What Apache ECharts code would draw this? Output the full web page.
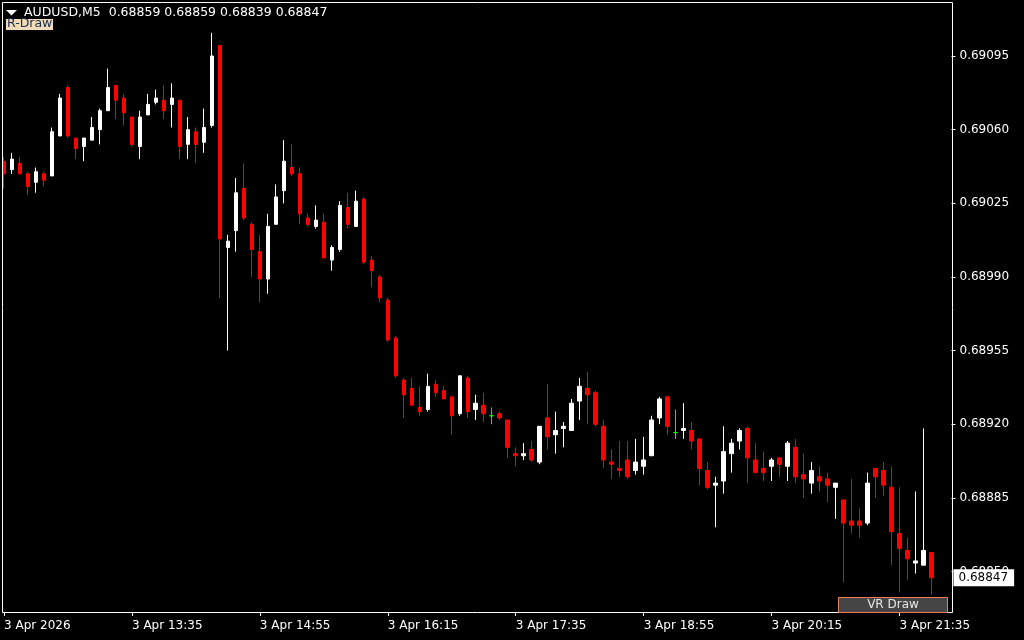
<!DOCTYPE html>
<html>
<head>
<meta charset="utf-8">
<script src="https://cdn.jsdelivr.net/npm/echarts@6/dist/echarts.min.js"></script>
<style>
html,body{margin:0;padding:0;background:#000;}
#chart{width:1024px;height:640px;}
</style>
</head>
<body>
<div id="chart"></div>
<script>
// Prices in units of 0.00001 (pipettes), AUDUSD M5, 3 Apr 2026, first bar 12:15
const openP = [69045,69041,69044,69039,69035,69039,69038,69057,69080,69056,69052,69055,69060,69069,69081,69075,69066,69052,69067,69073,69074,69072,69074,69053,69059,69054,69062,69100,69004,69012,69032,69015,69002,68989,69015,69031,69042,69039,69018,69014,69016,68998,69003,69023,69014,69027,68998,68990,68979,68961,68941,68937,68928,68927,68939,68936,68933,68925,68942,68927,68929,68924,68925,68922,68906,68905,68908,68902,68923,68915,68918,68917,68931,68937,68935,68919,68902,68899,68903,68898,68900,68905,68923,68933,68916,68917,68917,68913,68898,68891,68893,68906,68912,68918,68903,68899,68900,68904,68900,68909,68896,68892,68895,68894,68890,68884,68874,68874,68873,68899,68898,68890,68868,68860,68854,68853,68859];
const highP = [69047,69049,69047,69040,69042,69040,69061,69077,69081,69056,69056,69066,69070,69089,69081,69077,69066,69069,69077,69079,69081,69082,69074,69066,69061,69070,69106,69100,69010,69037,69044,69016,69010,69020,69034,69055,69053,69042,69020,69024,69020,69005,69026,69030,69031,69028,69000,68991,68980,68962,68942,68942,68938,68944,68941,68938,68933,68943,68943,68934,68935,68928,68926,68922,68909,68911,68912,68919,68939,68926,68921,68932,68942,68945,68936,68922,68908,68912,68912,68913,68914,68924,68933,68933,68927,68930,68921,68913,68902,68895,68919,68913,68918,68919,68911,68907,68904,68904,68912,68913,68906,68902,68900,68897,68892,68884,68894,68880,68897,68899,68902,68900,68890,68866,68888,68918,68859];
const lowP = [69032,69039,69039,69029,69030,69033,69038,69057,69056,69046,69045,69055,69053,69069,69065,69062,69052,69046,69067,69072,69065,69061,69046,69046,69044,69049,69061,68980,68955,69002,69017,68990,68978,68982,69015,69025,69038,69015,69014,69013,68999,68993,69002,69013,69014,68996,68985,68978,68959,68942,68923,68929,68924,68926,68933,68932,68915,68924,68923,68922,68921,68920,68922,68904,68900,68903,68902,68901,68908,68906,68909,68917,68922,68920,68919,68899,68894,68895,68894,68896,68896,68905,68920,68915,68913,68913,68908,68891,68889,68871,68887,68897,68908,68892,68897,68893,68893,68895,68893,68892,68885,68887,68888,68883,68875,68845,68868,68866,68872,68885,68886,68853,68840,68846,68849,68853,68839];
const closeP = [69039,69046,69039,69033,69040,69036,69059,69075,69057,69051,69056,69061,69069,69080,69074,69068,69053,69066,69072,69075,69069,69075,69052,69060,69053,69061,69095,69008,69007,69030,69018,69003,68989,69014,69028,69045,69039,69020,69015,69017,68999,69004,69024,69015,69026,68997,68993,68980,68960,68943,68934,68929,68926,68938,68935,68932,68924,68943,68926,68930,68925,68924,68923,68909,68905,68906,68903,68919,68914,68917,68919,68930,68938,68934,68920,68903,68901,68898,68895,68902,68903,68922,68932,68919,68916,68918,68912,68899,68890,68892,68907,68911,68917,68904,68897,68897,68903,68901,68911,68895,68894,68898,68893,68891,68892,68873,68872,68872,68892,68895,68891,68869,68861,68856,68855,68860,68847];
const lastPrice = 68847;
const priceTicks = [68850,68885,68920,68955,68990,69025,69060,69095];
const dateLabel = "3 Apr 2026";
const dayPrefix = "3 Apr ";
const header = "AUDUSD,M5  0.68859 0.68859 0.68839 0.68847";

// time categories: 5-minute bars from 12:15, plus 2 empty future slots (chart shift)
const categories = [];
for (let i = 0; i < openP.length + 2; i++) {
  const m = 12 * 60 + 15 + 5 * i;
  const hh = Math.floor(m / 60), mm = m % 60;
  categories.push((hh < 10 ? '0' : '') + hh + ':' + (mm < 10 ? '0' : '') + mm);
}

const candleData = openP.map((o, i) => {
  const item = { value: [o, closeP[i], lowP[i], highP[i]] };
  if (o === closeP[i]) {
    item.itemStyle = { color: '#00ff00', color0: '#00ff00', borderColor: '#00ff00', borderColor0: '#00ff00', borderColorDoji: '#00ff00' };
  }
  return item;
});

const FONT = 'DejaVu Sans';
const chart = echarts.init(document.getElementById('chart'), null, { renderer: 'canvas' });
const showIdx = (idx) => idx % 16 === 0 && idx <= 112;

chart.setOption({
  animation: false,
  backgroundColor: '#000000',
  grid: { left: -0.5, top: 2, width: 952, height: 610, containLabel: false },
  xAxis: {
    type: 'category',
    data: categories,
    boundaryGap: true,
    axisLine: { show: false },
    axisTick: { show: true, alignWithLabel: true, interval: (idx) => showIdx(idx), length: 4, lineStyle: { color: '#ffffff' } },
    axisLabel: {
      interval: (idx) => showIdx(idx),
      align: 'left',
      margin: 8,
      color: '#ffffff',
      fontFamily: FONT,
      fontSize: 12,
      formatter: (val, idx) => idx === 0 ? dateLabel : dayPrefix + val
    },
    splitLine: { show: false }
  },
  yAxis: {
    type: 'value',
    position: 'right',
    min: 68830.741,
    max: 69120.665,
    scale: true,
    axisLine: { show: false },
    axisTick: { show: true, customValues: priceTicks, length: 4, lineStyle: { color: '#ffffff' } },
    axisLabel: {
      customValues: priceTicks,
      margin: 8,
      color: '#ffffff',
      fontFamily: FONT,
      fontSize: 12,
      formatter: (v) => (v / 100000).toFixed(5)
    },
    splitLine: { show: false }
  },
  series: [{
    type: 'candlestick',
    data: candleData,
    barWidth: 4,
    z: 2,
    itemStyle: {
      color: '#ffffff',
      color0: '#ff0000',
      borderColor: '#ffffff',
      borderColor0: '#ff0000',
      borderColorDoji: '#00ff00',
      borderWidth: 1
    },
    markLine: {
      silent: true,
      symbol: ['none', 'none'],
      lineStyle: { color: 'rgba(0,0,0,0)', width: 0, type: 'solid' },
      label: {
        show: true,
        position: 'end',
        distance: 2,
        formatter: () => (lastPrice / 100000).toFixed(5),
        backgroundColor: '#ffffff',
        color: '#000000',
        fontFamily: FONT,
        fontSize: 12,
        padding: [3, 6, 2, 5]
      },
      emphasis: { disabled: true },
      data: [{ yAxis: lastPrice }],
      z: 10
    }
  }],
  graphic: [
    { type: 'rect', z: 100, shape: { x: 2.5, y: 2.5, width: 950, height: 610 }, style: { fill: null, stroke: '#ffffff', lineWidth: 1 } },
    { type: 'polygon', z: 100, shape: { points: [[6, 10], [17, 10], [11.5, 15.5]] }, style: { fill: '#ffffff' } },
    { type: 'text', z: 100, x: 24, y: 13, style: { text: header, fill: '#ffffff', font: '12.5px "DejaVu Sans"', textVerticalAlign: 'middle' } },
    { type: 'rect', z: 99, shape: { x: 6, y: 19, width: 47, height: 11 }, style: { fill: '#f0dcb8' } },
    { type: 'text', z: 100, x: 7, y: 24, style: { text: 'R-Draw', fill: '#203050', font: '12.5px "DejaVu Sans"', textVerticalAlign: 'middle' } },
    { type: 'rect', z: 100, shape: { x: 838.5, y: 597.5, width: 109, height: 15 }, style: { fill: '#454545', stroke: '#f07a5a', lineWidth: 1 } },
    { type: 'text', z: 101, x: 893, y: 605, style: { text: 'VR Draw', fill: '#e6e6e6', font: '12px "DejaVu Sans"', textAlign: 'center', textVerticalAlign: 'middle' } }
  ]
});
</script>
</body>
</html>
